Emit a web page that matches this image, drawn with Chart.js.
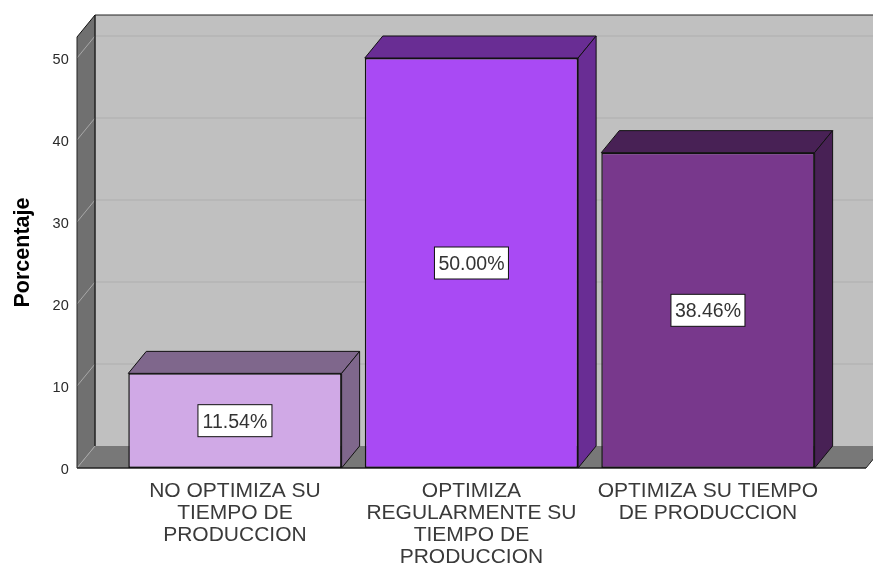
<!DOCTYPE html>
<html>
<head>
<meta charset="utf-8">
<style>html,body{margin:0;padding:0;background:#fff}canvas{display:block}</style>
<script src="https://cdn.jsdelivr.net/npm/chart.js@4/dist/chart.umd.min.js"></script>
</head>
<body>
<canvas id="c" width="873" height="565"></canvas>
<script>
const categories = [
  ["NO OPTIMIZA SU", "TIEMPO DE", "PRODUCCION"],
  ["OPTIMIZA", "REGULARMENTE SU", "TIEMPO DE", "PRODUCCION"],
  ["OPTIMIZA SU TIEMPO", "DE PRODUCCION"]
];
const values = [11.54, 50.00, 38.46];
const frontColors = ["#d0a9e6", "#a94af4", "#78388c"];
const sideColors = ["#7f678c", "#692d94", "#482155"];
const yTicks = [0, 10, 20, 30, 40, 50];
const yTitle = "Porcentaje";
const DX = 18, DY = 22;
const WALL_LEFT = 77, FLOOR_RIGHT = 866, CANVAS_R = 873;

function poly(ctx, pts, fill, stroke, lw) {
  ctx.beginPath();
  pts.forEach((p, i) => i ? ctx.lineTo(p[0], p[1]) : ctx.moveTo(p[0], p[1]));
  ctx.closePath();
  if (fill) { ctx.fillStyle = fill; ctx.fill(); }
  if (stroke) { ctx.strokeStyle = stroke; ctx.lineWidth = lw || 1; ctx.stroke(); }
}
function seg(ctx, x0, y0, x1, y1, c, lw) {
  ctx.beginPath(); ctx.moveTo(x0, y0); ctx.lineTo(x1, y1);
  ctx.strokeStyle = c; ctx.lineWidth = lw || 1; ctx.stroke();
}

const scene3d = {
  id: "scene3d",
  beforeDatasetsDraw(chart) {
    const ctx = chart.ctx, y = chart.scales.y;
    const y0 = y.getPixelForValue(0), yTop = y.getPixelForValue(50);
    const wallTop = yTop - DY - 21;
    ctx.save();
    poly(ctx, [[WALL_LEFT + DX, wallTop], [CANVAS_R + 20, wallTop], [CANVAS_R + 20, y0 - DY], [WALL_LEFT + DX, y0 - DY]], "#c0c0c0");
    poly(ctx, [[WALL_LEFT, wallTop + DY], [WALL_LEFT + DX, wallTop], [WALL_LEFT + DX, y0 - DY], [WALL_LEFT, y0]], "#707070");
    poly(ctx, [[WALL_LEFT, y0], [WALL_LEFT + DX, y0 - DY], [FLOOR_RIGHT + DX, y0 - DY], [FLOOR_RIGHT, y0]], "#787878");
    yTicks.forEach(v => {
      const p = y.getPixelForValue(v);
      seg(ctx, WALL_LEFT, p, WALL_LEFT + DX, p - DY, "#a8a8a8", 1);
      if (v > 0) seg(ctx, WALL_LEFT + DX, p - DY, CANVAS_R, p - DY, "#aeaeae", 1);
    });
    seg(ctx, WALL_LEFT + DX, wallTop, CANVAS_R, wallTop, "#222", 1);
    seg(ctx, WALL_LEFT + DX, wallTop, WALL_LEFT + DX, y0 - DY, "#222", 1.5);
    seg(ctx, WALL_LEFT, wallTop + DY, WALL_LEFT, y0, "#222", 1);
    seg(ctx, WALL_LEFT, wallTop + DY, WALL_LEFT + DX, wallTop, "#111", 1);
    seg(ctx, WALL_LEFT, y0, FLOOR_RIGHT, y0, "#222", 1.5);
    seg(ctx, FLOOR_RIGHT, y0, FLOOR_RIGHT + DX, y0 - DY, "#222", 1);
    chart.getDatasetMeta(0).data.forEach((bar, i) => {
      const l = bar.x - bar.width / 2, r = bar.x + bar.width / 2, t = bar.y, b = bar.base;
      poly(ctx, [[l, t], [l + DX, t - DY], [r + DX, t - DY], [r, t]], sideColors[i], "#111", 1);
      poly(ctx, [[r, t], [r + DX, t - DY], [r + DX, b - DY], [r, b]], sideColors[i], "#111", 1);
    });
    ctx.restore();
  },
  afterDatasetsDraw(chart) {
    const ctx = chart.ctx;
    ctx.save();
    ctx.font = "19.5px 'Liberation Sans'";
    ctx.textAlign = "center";
    ctx.textBaseline = "middle";
    chart.getDatasetMeta(0).data.forEach((bar, i) => {
      const cy = (bar.y + bar.base) / 2, cx = bar.x;
      const w = 74, h = 32;
      ctx.fillStyle = "#fff";
      ctx.fillRect(cx - w / 2, cy - h / 2, w, h);
      ctx.strokeStyle = "#111"; ctx.lineWidth = 1;
      ctx.strokeRect(cx - w / 2, cy - h / 2, w, h);
      ctx.fillStyle = "#333";
      ctx.fillText(values[i].toFixed(2) + "%", cx, cy + 1.5);
    });
    ctx.restore();
    ctx.save();
    ctx.translate(29, 252.5);
    ctx.rotate(-Math.PI / 2);
    ctx.font = "bold 21.5px 'Liberation Sans'";
    ctx.textAlign = "center";
    ctx.textBaseline = "alphabetic";
    ctx.fillStyle = "#000";
    ctx.fillText(yTitle, 0, 0);
    ctx.restore();
  }
};

new Chart(document.getElementById("c"), {
  type: "bar",
  data: {
    labels: categories,
    datasets: [{
      data: values,
      backgroundColor: frontColors,
      borderColor: "#111",
      borderWidth: 1.5,
      borderSkipped: false,
      barPercentage: 0.902,
      categoryPercentage: 1,
      clip: false
    }]
  },
  plugins: [scene3d],
  options: {
    responsive: false,
    animation: false,
    layout: { padding: { top: 58, right: 46.8, left: 0, bottom: 0 } },
    plugins: { legend: { display: false }, tooltip: { enabled: false } },
    scales: {
      x: {
        grid: { display: false },
        border: { display: false },
        afterFit(s) { s.height = 97; },
        ticks: {
          autoSkip: false, maxRotation: 0, minRotation: 0, padding: 4,
          color: "#3a3a3a",
          font: { family: "'Liberation Sans'", size: 21, lineHeight: "22px" }
        }
      },
      y: {
        min: 0, max: 50,
        grid: { display: false, drawTicks: false },
        border: { display: false },
        afterFit(s) { s.width = 116.7; },
        afterBuildTicks(s) { s.ticks = yTicks.map(v => ({ value: v })); },
        ticks: {
          padding: 48,
          labelOffset: 2,
          color: "#2a2a2a",
          font: { family: "'Liberation Sans'", size: 14.5 }
        }
      }
    }
  }
});
</script>
</body>
</html>
